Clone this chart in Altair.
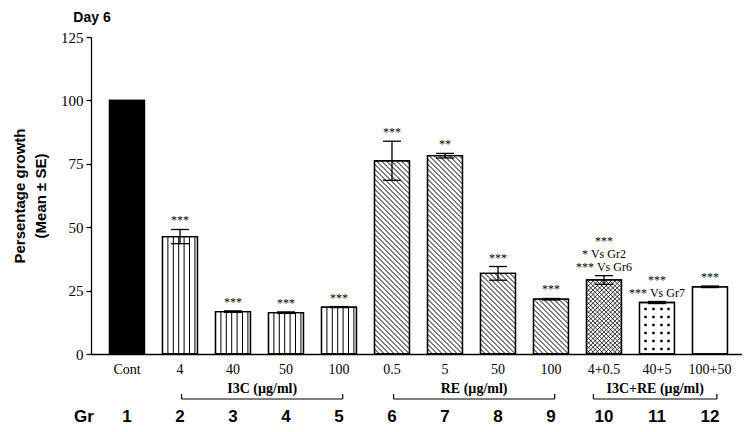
import altair as alt
import pandas as pd
import numpy as np

# ---------------- data ----------------
groups = list(range(1, 13))
dose_labels = ["Cont", "4", "40", "50", "100", "0.5", "5", "50", "100", "4+0.5", "40+5", "100+50"]
means = [100, 46.3, 16.7, 16.3, 18.5, 76.2, 78.2, 31.8, 21.6, 29.2, 20.3, 26.5]
se = [0, 2.8, 0.3, 0.3, 0.2, 7.7, 0.9, 2.7, 0.3, 1.7, 0.4, 0.3]
patterns = ["solid", "vertical", "vertical", "vertical", "vertical",
            "diag", "diag", "diag", "diag", "cross", "dots", "blank"]
sig = ["", "***", "***", "***", "***", "***", "**", "***", "***", "***", "***", "***"]
# extra comparison lines (bottom-up, drawn under the main stars)
comparisons = {10: ["*** Vs Gr6", "* Vs Gr2"], 11: ["*** Vs Gr7"]}
bracket_labels = ["I3C (µg/ml)", "RE (µg/ml)", "I3C+RE (µg/ml)"]
bracket_start = [2, 6, 10]
bracket_end = [5, 9, 12]
y_ticks = [0, 25, 50, 75, 100, 125]

# ---------------- layout / style ----------------
W, H = 651, 317
X_DOM = [0.321, 12.604]
Y_DOM = [0, 125]
SX = W / (X_DOM[1] - X_DOM[0])   # px per x unit
SY = H / (Y_DOM[1] - Y_DOM[0])   # px per y unit
HW = 0.33                        # half bar width in x units
SERIF = "Liberation Serif"
SANS = "Liberation Sans"

xs = alt.Scale(domain=X_DOM, nice=False, zero=False)
ys = alt.Scale(domain=Y_DOM, nice=False)

bars = pd.DataFrame({
    "g": groups, "label": dose_labels, "mean": means, "se": se, "pat": patterns,
})
bars["x0"] = bars["g"] - HW
bars["x1"] = bars["g"] + HW
bars["lo"] = bars["mean"] - bars["se"]
bars["hi"] = bars["mean"] + bars["se"]
bars["fill"] = np.where(bars["pat"] == "solid", "black", "white")
bars["gs"] = bars["g"].astype(str)

# hatch geometry, built from bar values in pixel space then mapped back to data
segs = []
dots = []
for g, m, p in zip(groups, means, patterns):
    left = g - HW
    Wp = 2 * HW * SX
    Hp = m * SY

    def add(u0, v0, u1, v1):
        segs.append({"x": left + u0 / SX, "y": v0 / SY, "x2": left + u1 / SX, "y2": v1 / SY,
                     "w": 0.8 if p == "cross" else 1.0})

    if p == "vertical":
        sp = 5.4
        u = sp
        while u < Wp - 1:
            add(u, 0, u, Hp)
            u += sp
    if p in ("diag", "cross"):
        sp = 5.0 if p == "diag" else 4.4
        c = sp
        while c < Wp + Hp:
            ua, ub = max(0.0, c - Hp), min(Wp, c)
            if ub > ua:
                add(ua, c - ua, ub, c - ub)
            c += sp
    if p == "cross":
        sp = 4.4
        c = -Wp + sp
        while c < Hp:
            ua, ub = max(0.0, -c), min(Wp, Hp - c)
            if ub > ua:
                add(ua, ua + c, ub, ub + c)
            c += sp
    if p == "dots":
        for u in (6, 14, 22, 29):
            v = 5
            while v < Hp - 2:
                dots.append({"x": left + u / SX, "y": v / SY})
                v += 8

segs = pd.DataFrame(segs)
dots = pd.DataFrame(dots)

# annotations
ann_rows = []
for g, s, h in zip(groups, sig, bars["hi"]):
    lines = comparisons.get(g, []) + ([s] if s else [])
    for lvl, t in enumerate(lines):
        ann_rows.append({"g": g, "hi": h, "t": t, "lvl": lvl})
ann = pd.DataFrame(ann_rows)

base = alt.Chart(bars)

bar_fill = base.mark_rect(stroke="black", strokeWidth=1.3).encode(
    x=alt.X("x0:Q", scale=xs, axis=alt.Axis(labels=False, ticks=False, grid=False, title=None,
                                            domainColor="black", domainWidth=1.3)),
    x2="x1:Q",
    y=alt.Y("mean:Q", scale=ys, axis=alt.Axis(
        values=y_ticks, grid=False, tickSize=5, tickColor="black", tickWidth=1.3,
        domainColor="black", domainWidth=1.3,
        labelFont=SERIF, labelFontSize=15, labelColor="black", labelPadding=3,
        title=["Persentage growth", "(Mean ± SE)"], titleFont=SANS, titleFontWeight="bold",
        titleFontSize=15, titleColor="black", titleLineHeight=21, titlePadding=12)),
    y2=alt.datum(0),
    fill=alt.Fill("fill:N", scale=None),
)

hatch = alt.Chart(segs).mark_rule(color="black").encode(
    x=alt.X("x:Q", scale=xs), y=alt.Y("y:Q", scale=ys), x2="x2:Q", y2="y2:Q",
    strokeWidth=alt.StrokeWidth("w:Q", scale=None))

dot_layer = alt.Chart(dots).mark_square(color="black", size=6, opacity=1).encode(
    x=alt.X("x:Q", scale=xs), y=alt.Y("y:Q", scale=ys))

outline = base.mark_rect(fill=None, stroke="black", strokeWidth=1.3).encode(
    x=alt.X("x0:Q", scale=xs), x2="x1:Q", y=alt.Y("mean:Q", scale=ys), y2=alt.datum(0))

errb = base.transform_filter("datum.se > 0")
err_v = errb.mark_rule(color="black", strokeWidth=1.3).encode(
    x=alt.X("g:Q", scale=xs), y=alt.Y("lo:Q", scale=ys), y2="hi:Q")
err_cap_hi = errb.transform_calculate(a="datum.g - 0.17", b="datum.g + 0.17").mark_rule(
    color="black", strokeWidth=1.3).encode(x=alt.X("a:Q", scale=xs), x2="b:Q", y=alt.Y("hi:Q", scale=ys))
err_cap_lo = errb.transform_calculate(a="datum.g - 0.17", b="datum.g + 0.17").mark_rule(
    color="black", strokeWidth=1.3).encode(x=alt.X("a:Q", scale=xs), x2="b:Q", y=alt.Y("lo:Q", scale=ys))

ann_layers = []
for lvl in range(3):
    ann_layers.append(
        alt.Chart(ann).transform_filter(f"datum.lvl == {lvl}").mark_text(
            font=SERIF, fontSize=12, baseline="bottom", dy=-2 - 13 * lvl, color="black"
        ).encode(x=alt.X("g:Q", scale=xs), y=alt.Y("hi:Q", scale=ys), text="t:N")
    )

dose_text = base.mark_text(font=SERIF, fontSize=14, baseline="middle", color="black").encode(
    x=alt.X("g:Q", scale=xs), y=alt.value(H + 16), text="label:N")

gr_text = base.mark_text(font=SANS, fontSize=17, fontWeight="bold", baseline="middle", color="black").encode(
    x=alt.X("g:Q", scale=xs), y=alt.value(H + 63), text="gs:N")

gr_label = alt.Chart(pd.DataFrame({"t": ["Gr"]})).mark_text(
    font=SANS, fontSize=17, fontWeight="bold", baseline="middle", color="black").encode(
    x=alt.value(-7), y=alt.value(H + 63), text="t:N")

day_label = alt.Chart(pd.DataFrame({"t": ["Day 6"]})).mark_text(
    font=SANS, fontSize=14, fontWeight="bold", baseline="middle", color="black").encode(
    x=alt.value(1), y=alt.value(-19), text="t:N")

brk = pd.DataFrame({"s": bracket_start, "e": bracket_end, "t": bracket_labels})
brk["s"] = brk["s"] + np.where(brk["s"] == 10, -0.2, 0.03)
brk["e"] = brk["e"] + np.where(brk["e"] == 12, 0.13, 0.07)
bbase = alt.Chart(brk)
brk_h = bbase.mark_rule(color="black", strokeWidth=1.2).encode(
    x=alt.X("s:Q", scale=xs), x2="e:Q", y=alt.value(H + 45))
brk_l = bbase.mark_rule(color="black", strokeWidth=1.2).encode(
    x=alt.X("s:Q", scale=xs), y=alt.value(H + 40), y2=alt.value(H + 45))
brk_r = bbase.mark_rule(color="black", strokeWidth=1.2).encode(
    x=alt.X("e:Q", scale=xs), y=alt.value(H + 40), y2=alt.value(H + 45))
brk_t = bbase.transform_calculate(m="(datum.s + datum.e) / 2").mark_text(
    font=SERIF, fontSize=14, fontWeight="bold", baseline="middle", color="black").encode(
    x=alt.X("m:Q", scale=xs), y=alt.value(H + 35), text="t:N")

chart = alt.layer(
    bar_fill, hatch, dot_layer, outline, err_v, err_cap_hi, err_cap_lo, *ann_layers,
    dose_text, gr_text, gr_label, day_label, brk_h, brk_l, brk_r, brk_t,
).properties(
    width=W, height=H,
    autosize=alt.AutoSizeParams(type="none"),
    padding={"left": 83, "top": 29, "right": 0, "bottom": 78},
    background="white",
).configure_view(stroke=None)

chart.save("out.html", embed_options={"renderer": "svg", "actions": False})
